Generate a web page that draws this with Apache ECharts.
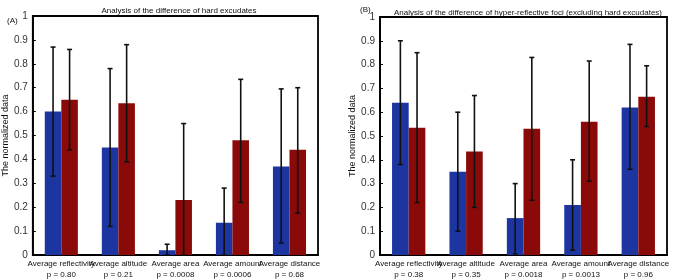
<!DOCTYPE html>
<html><head><meta charset="utf-8">
<script src="https://cdn.jsdelivr.net/npm/echarts@6/dist/echarts.min.js"></script>
<style>html,body{margin:0;padding:0;background:#fff}#c{width:675px;height:280px}</style>
</head><body><div id="c"></div>
<script>
const categoriesA = ['Average reflectivity\np = 0.80','Average altitude\np = 0.21','Average area\np = 0.0008','Average amount\np = 0.0006','Average distance\np = 0.68'];
const blueA = [0.60, 0.45, 0.02, 0.135, 0.37];
const blueLowA = [0.33, 0.12, 0.0, 0.0, 0.05];
const blueHighA = [0.87, 0.78, 0.045, 0.28, 0.695];
const redA = [0.65, 0.635, 0.23, 0.48, 0.44];
const redLowA = [0.44, 0.39, 0.0, 0.22, 0.175];
const redHighA = [0.86, 0.88, 0.55, 0.735, 0.70];

const categoriesB = ['Average reflectivity\np = 0.38','Average altitude\np = 0.35','Average area\np = 0.0018','Average amount\np = 0.0013','Average distance\np = 0.96'];
const blueB = [0.64, 0.35, 0.155, 0.21, 0.62];
const blueLowB = [0.38, 0.10, 0.005, 0.02, 0.36];
const blueHighB = [0.90, 0.60, 0.30, 0.40, 0.885];
const redB = [0.535, 0.435, 0.53, 0.56, 0.665];
const redLowB = [0.22, 0.20, 0.23, 0.31, 0.54];
const redHighB = [0.85, 0.67, 0.83, 0.815, 0.795];

const titleA = 'Analysis of the difference of hard excudates';
const titleB = 'Analysis of the difference of hyper-reflective foci (excluding hard excudates)';
const yName = 'The normalized data';

const BLUE = '#1c35a0', RED = '#8a0a0a';
const GAP = 0.42;
const FONT = 'Liberation Sans';

function errSeries(idx, lows, highs, side) {
  return {
    type: 'custom', xAxisIndex: idx, yAxisIndex: idx, z: 10,
    data: lows.map((l, i) => [i, l, highs[i]]),
    renderItem: function (params, api) {
      const c = api.value(0);
      const band = api.size([1, 0])[0];
      const bw = band * (1 - GAP) / 2;
      const x = api.coord([c, 0])[0] + side * bw / 2;
      const yl = api.coord([c, api.value(1)])[1];
      const yh = api.coord([c, api.value(2)])[1];
      const cap = 2.5;
      const st = { stroke: '#111', lineWidth: 1.6 };
      return { type: 'group', children: [
        { type: 'line', shape: { x1: x, y1: yl, x2: x, y2: yh }, style: st },
        { type: 'line', shape: { x1: x - cap, y1: yh, x2: x + cap, y2: yh }, style: st },
        { type: 'line', shape: { x1: x - cap, y1: yl, x2: x + cap, y2: yl }, style: st }
      ]};
    }
  };
}

function xAx(idx, cats) {
  return { type: 'category', gridIndex: idx, data: cats,
    axisLine: { show: true, lineStyle: { color: '#000', width: 1.8 } },
    axisTick: { show: false },
    axisLabel: { interval: 0, fontSize: 8, color: '#111', lineHeight: 11, margin: 3, fontFamily: FONT } };
}
function yAx(idx, gap) {
  return { type: 'value', gridIndex: idx, min: 0, max: 1, interval: 0.1,
    name: yName, nameLocation: 'middle', nameGap: gap, nameRotate: 90,
    nameTextStyle: { fontSize: 9, color: '#111', fontFamily: FONT },
    axisLine: { show: true, lineStyle: { color: '#000', width: 1.8 } },
    axisTick: { show: true, inside: true, length: 3, lineStyle: { color: '#000' } },
    splitLine: { show: false },
    axisLabel: { fontSize: 10, color: '#333', margin: 5, fontFamily: FONT } };
}
function bar(idx, data, color) {
  return { type: 'bar', xAxisIndex: idx, yAxisIndex: idx, data: data,
    itemStyle: { color: color }, barGap: '0%', barCategoryGap: (GAP * 100) + '%' };
}

const chart = echarts.init(document.getElementById('c'), null, { renderer: 'canvas' });
chart.setOption({
  animation: false,
  backgroundColor: '#fff',
  title: [
    { text: titleA, left: 174, top: 2, textAlign: 'center', textStyle: { fontSize: 8, fontWeight: 'normal', color: '#111', fontFamily: FONT } },
    { text: titleB, left: 523, top: 4, textAlign: 'center', textStyle: { fontSize: 8, fontWeight: 'normal', color: '#111', fontFamily: FONT } },
    { text: '(A)', left: 2, top: 12, textStyle: { fontSize: 8, fontWeight: 'normal', color: '#111', fontFamily: FONT } },
    { text: '(B)', left: 355, top: 1, textStyle: { fontSize: 8, fontWeight: 'normal', color: '#111', fontFamily: FONT } }
  ],
  grid: [
    { left: 30, right: 357, top: 16, bottom: 23, show: true, borderColor: '#000', borderWidth: 1.8, backgroundColor: '#fff' },
    { left: 380, right: 8, top: 17, bottom: 23, show: true, borderColor: '#000', borderWidth: 1.8, backgroundColor: '#fff' }
  ],
  xAxis: [xAx(0, categoriesA), xAx(1, categoriesB)],
  yAxis: [yAx(0, 18), yAx(1, 19)],
  series: [
    bar(0, blueA, BLUE), bar(0, redA, RED),
    bar(1, blueB, BLUE), bar(1, redB, RED),
    errSeries(0, blueLowA, blueHighA, -1), errSeries(0, redLowA, redHighA, 1),
    errSeries(1, blueLowB, blueHighB, -1), errSeries(1, redLowB, redHighB, 1)
  ]
});
</script></body></html>
